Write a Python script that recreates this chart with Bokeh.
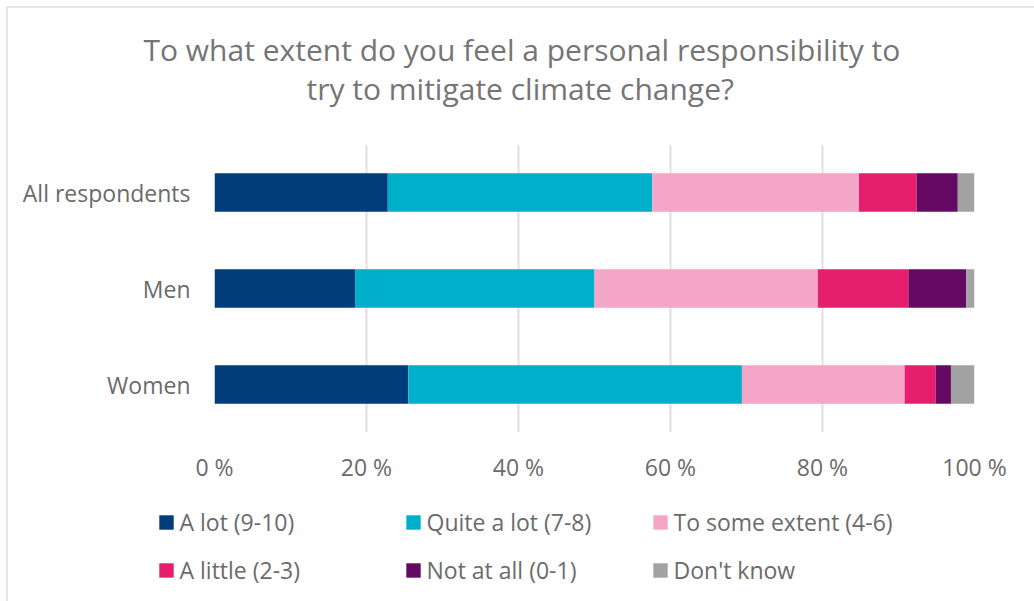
from bokeh.plotting import figure
from bokeh.models import (FactorRange, Range1d, FixedTicker, Legend, LegendItem, Title)
from bokeh.layouts import column
from bokeh.embed import file_html
from bokeh.resources import INLINE

groups = ["Women", "Men", "All respondents"]
series = ["A lot (9-10)", "Quite a lot (7-8)", "To some extent (4-6)",
          "A little (2-3)", "Not at all (0-1)", "Don't know"]
a_lot = [25.5, 18.5, 22.8]
quite_a_lot = [43.9, 31.5, 34.8]
some_extent = [21.4, 29.4, 27.2]
a_little = [4.1, 11.9, 7.6]
not_at_all = [2.0, 7.6, 5.4]
dont_know = [3.1, 1.1, 2.2]
colors = ["#003D7A", "#00AFCA", "#F4A6C6", "#E61E6E", "#650A62", "#A2A2A2"]
ticks = [0, 20, 40, 60, 80, 100]
tick_labels = ["0 %", "20 %", "40 %", "60 %", "80 %", "100 %"]
title_lines = ["To what extent do you feel a personal responsibility to",
               "try to mitigate climate change?"]

FONT = "Open Sans"
TXT = "#6b6b6b"
keys = ["a", "b", "c", "d", "e", "f"]
data = dict(y=groups, a=a_lot, b=quite_a_lot, c=some_extent,
            d=a_little, e=not_at_all, f=dont_know)

p = figure(width=1026, height=487, y_range=FactorRange(factors=groups),
           x_range=Range1d(0, 100), output_backend="svg", toolbar_location=None,
           min_border_left=206, min_border_right=60, min_border_top=136,
           min_border_bottom=63)
p.frame_align = False
p.outline_line_color = None
p.background_fill_color = "white"
p.border_fill_color = "white"

p.hbar_stack(keys, y="y", height=0.4, color=colors, source=data, line_color=None)

p.xaxis.ticker = FixedTicker(ticks=ticks)
p.xaxis.major_label_overrides = {t: l for t, l in zip(ticks, tick_labels)}
for ax in (p.xaxis[0], p.yaxis[0]):
    ax.axis_line_color = None
    ax.major_tick_line_color = None
    ax.minor_tick_line_color = None
    ax.major_label_text_font = FONT
    ax.major_label_text_font_size = "23px"
    ax.major_label_text_color = TXT
p.xaxis.major_label_standoff = 12
p.yaxis.major_label_standoff = 18

p.xgrid.grid_line_color = "#e0e0e0"
p.xgrid.grid_line_width = 2
p.ygrid.grid_line_color = None

# spacer nearest the frame, then second line, then first line
p.add_layout(Title(text=" ", text_font_size="10px", standoff=25), "above")
for txt, off in zip(title_lines[::-1], [92, -71]):
    p.add_layout(Title(text=txt, align="left", offset=off, standoff=-4,
                       text_font=FONT, text_font_size="30px",
                       text_font_style="normal", text_color="#757575"), "above")

# legend strip
nan = float("nan")
lf = figure(width=1026, height=106, x_range=Range1d(0, 1), y_range=Range1d(0, 1),
            x_axis_type=None, y_axis_type=None, output_backend="svg",
            toolbar_location=None, min_border=0)
lf.frame_align = False
lf.outline_line_color = None
lf.xgrid.visible = False
lf.ygrid.visible = False
rs = [lf.hbar(y=[nan], right=[nan], height=0.5, fill_color=c, line_color=None)
      for c in colors]
items = [LegendItem(label=s, renderers=[r]) for s, r in zip(series, rs)]
legend = Legend(items=items, orientation="horizontal", ncols=3,
                location=(148.5, 15), glyph_width=18, glyph_height=18,
                label_width=208, label_standoff=5, spacing=16, padding=0, margin=0,
                label_text_font=FONT, label_text_font_size="23px",
                label_text_color=TXT, border_line_color=None,
                background_fill_alpha=0)
lf.add_layout(legend)

layout = column(p, lf, spacing=0)
layout.styles = {"margin-left": "6px", "margin-top": "6px",
                 "border-left": "2px solid #e6e6e6", "border-top": "2px solid #e6e6e6"}

open("out.html", "w").write(file_html(layout, INLINE))
